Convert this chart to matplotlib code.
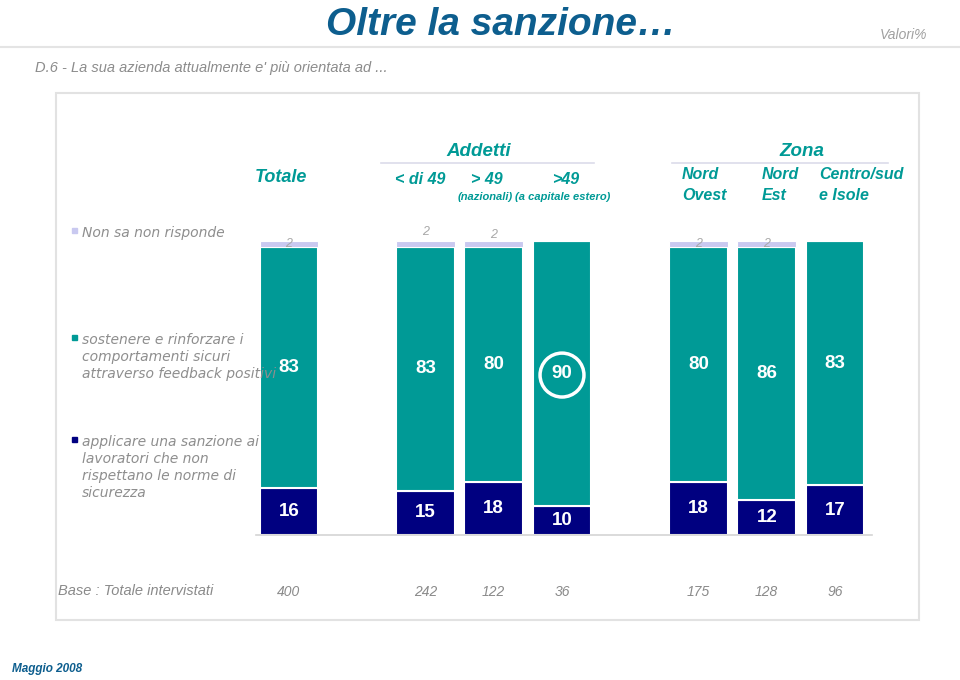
import matplotlib
matplotlib.use("Agg")
import matplotlib.pyplot as plt
from matplotlib.patches import Rectangle
from matplotlib.lines import Line2D
import matplotlib.transforms as mtransforms
import numpy as np

plt.rcParams['font.family'] = ['Liberation Sans', 'DejaVu Sans']

# ---------------- data ----------------
categories = ["Totale", "< di 49", "> 49", ">49", "Nord\nOvest", "Nord\nEst", "Centro/sud\ne Isole"]
subcats = ["", "", "(nazionali)", "(a capitale estero)", "", "", ""]
sanzione = [16, 15, 18, 10, 18, 12, 17]          # applicare una sanzione
feedback = [83, 83, 80, 90, 80, 86, 83]          # sostenere e rinforzare
nsnr = [2, 2, 2, 0, 2, 2, 0]                     # non sa non risponde
base = [400, 242, 122, 36, 175, 128, 96]
series_names = ["Non sa non risponde",
                "sostenere e rinforzare i\ncomportamenti sicuri\nattraverso feedback positivi",
                "applicare una sanzione ai\nlavoratori che non\nrispettano le norme di\nsicurezza"]
group_sizes = [1, 3, 3]
group_titles = [None, "Addetti", "Zona"]
highlight = 3  # index of circled value

# ---------------- style ----------------
TEAL = "#009a96"
NAVY = "#000080"
LAV = "#c9c9f0"
TITLE_BLUE = "#0d5e8e"
W, H = 960, 680

def fx(px):
    return px / W

def fy(py):
    return 1 - py / H

fig = plt.figure(figsize=(9.6, 6.8), dpi=100)
fig.patch.set_facecolor("white")

# positions: groups separated by one empty slot
pos = []
p = 0
for g in group_sizes:
    for _ in range(g):
        pos.append(p)
        p += 1
    p += 1
pos = np.array(pos, dtype=float)

# panel border and header line
fig.patches.append(Rectangle((fx(56), fy(620)), fx(919) - fx(56), fy(93) - fy(620),
                             transform=fig.transFigure, fill=False,
                             edgecolor="#e2e2e2", linewidth=1.5))
fig.lines.append(Line2D([0, 1], [fy(47), fy(47)], transform=fig.transFigure,
                        color="#e4e4e4", linewidth=1.5))

ax = fig.add_axes([fx(256), fy(535), fx(872) - fx(256), fy(241) - fy(535)])
ax.set_xlim(-0.4835, 8.542)
ax.set_ylim(0, 100)

tot = np.array(sanzione) + np.array(feedback) + np.array(nsnr)
s_n = np.array(sanzione) / tot * 100
f_n = np.array(feedback) / tot * 100
n_n = np.array(nsnr) / tot * 100

bw = 0.86
ax.bar(pos, s_n, width=bw, color=NAVY, edgecolor="white", linewidth=1.5)
ax.bar(pos, f_n, width=bw, bottom=s_n, color=TEAL, edgecolor="white", linewidth=1.5)
ax.bar(pos, n_n, width=bw, bottom=s_n + f_n, color=LAV, edgecolor="white", linewidth=0.8)

for spine in ["top", "right", "left"]:
    ax.spines[spine].set_visible(False)
ax.spines["bottom"].set_color("#d4d4d4")
ax.spines["bottom"].set_linewidth(1.2)
ax.set_xticks([])
ax.set_yticks([])
ax.patch.set_alpha(0)

nsnr_dy = [0, 4, 3, 0, 0, 0, 0]
for i, x in enumerate(pos):
    ax.text(x, s_n[i] / 2, str(sanzione[i]), ha="center", va="center",
            color="white", fontsize=13.5, fontweight="bold")
    ax.text(x, s_n[i] + f_n[i] / 2, str(feedback[i]), ha="center", va="center",
            color="white", fontsize=13.5, fontweight="bold")
    if nsnr[i] > 0:
        ax.text(x, 100 - n_n[i] / 2 + nsnr_dy[i], str(nsnr[i]), ha="center", va="center",
                color="#a8a8a8", fontsize=9, style="italic", clip_on=False)
    if i == highlight:
        ax.scatter([x], [s_n[i] + f_n[i] / 2 - 0.6], s=1000, facecolors="none",
                   edgecolors="white", linewidths=2.5, zorder=5)

# base row
trans = mtransforms.blended_transform_factory(ax.transData, fig.transFigure)
fig.text(fx(58), fy(591), "Base : Totale intervistati", ha="left", va="center",
         color="#8a8a8a", fontsize=10.5, style="italic")
for i, x in enumerate(pos):
    ax.text(x, fy(592), str(base[i]), transform=trans, ha="center", va="center",
            color="#8a8a8a", fontsize=10, style="italic")

# header labels
hdr = dict(color=TEAL, style="italic", fontweight="bold")
fig.text(fx(281), fy(177), categories[0], ha="center", va="center", fontsize=13, **hdr)
for i, xp in zip([1, 2, 3], [420, 487, 566]):
    fig.text(fx(xp), fy(180), categories[i], ha="center", va="center", fontsize=11.5, **hdr)
for i, xp in zip([2, 3], [485, 563]):
    fig.text(fx(xp), fy(197), subcats[i], ha="center", va="center", fontsize=8, **hdr)
for i, xp in zip([4, 5, 6], [682, 762, 819]):
    fig.text(fx(xp), fy(185), categories[i], ha="left", va="center", fontsize=11.5,
             linespacing=1.45, **hdr)

# group titles with underline
title_x = [None, 479, 802]
line_x = [None, (381, 594), (672, 888)]
for title, tx, lx in zip(group_titles, title_x, line_x):
    if title:
        fig.text(fx(tx), fy(151), title, ha="center", va="center", fontsize=13.5, **hdr)
        fig.lines.append(Line2D([fx(lx[0]), fx(lx[1])], [fy(163), fy(163)],
                                transform=fig.transFigure, color="#dcdcea", linewidth=1.2))

# legend texts
leg_top = [234, 341, 443]
leg_col = [LAV, TEAL, NAVY]
for name, yy, c in zip(series_names, leg_top, leg_col):
    fig.text(fx(82), fy(yy - 8), name, ha="left", va="top",
             color="#8e8e8e", fontsize=10, style="italic", linespacing=1.27,
             family="DejaVu Sans")
    fig.patches.append(Rectangle((fx(72), fy(yy - 1)), fx(5), 5 / H,
                                 transform=fig.transFigure, color=c))

# titles
fig.text(fx(501), fy(35), "Oltre la sanzione…", ha="center", va="baseline",
         color=TITLE_BLUE, fontsize=28, fontweight="bold", style="italic")
fig.text(fx(927), fy(35), "Valori%", ha="right", va="center", color="#a0a0a0",
         fontsize=10, style="italic")
fig.text(fx(35), fy(68), "D.6 - La sua azienda attualmente e' più orientata ad ...",
         ha="left", va="center", color="#8c8c8c", fontsize=10.5, style="italic")
fig.text(fx(12), fy(669), "Maggio 2008", ha="left", va="center", color=TITLE_BLUE,
         fontsize=8.5, fontweight="bold", style="italic")

fig.savefig("out.png", dpi=100, facecolor="white")
